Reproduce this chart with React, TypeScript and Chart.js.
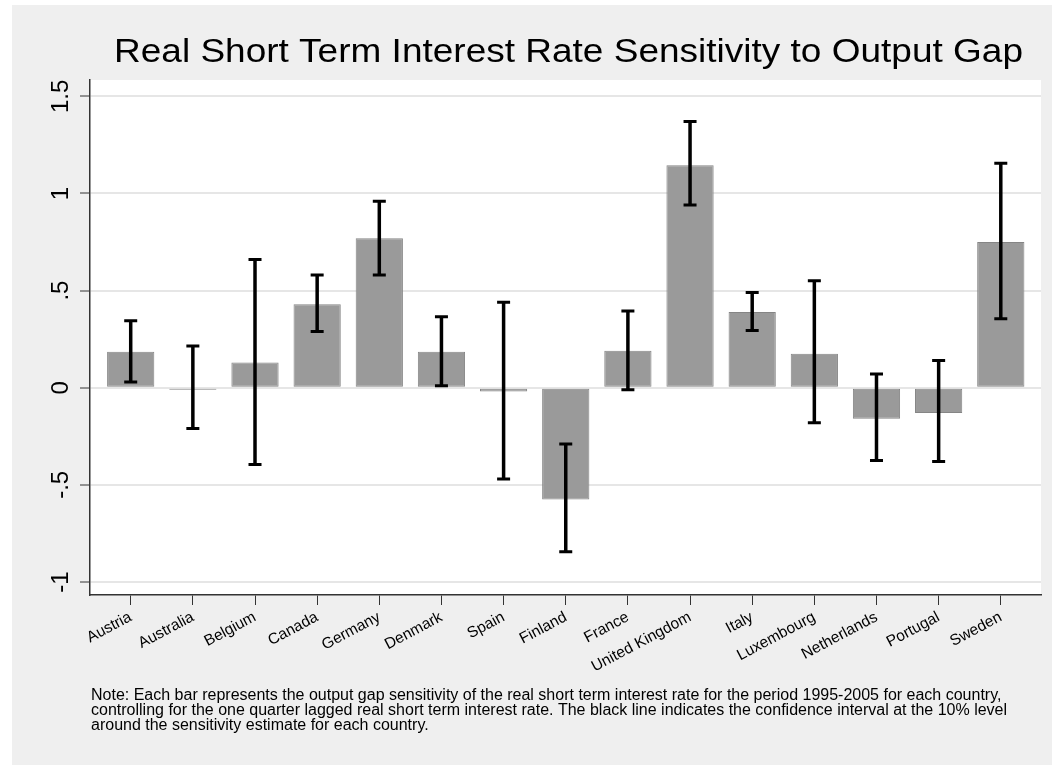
import React, { useEffect, useRef } from 'react';
import { Chart, registerables } from 'chart.js';

Chart.register(...registerables);

// Countries in display order
const countries = [
  'Austria', 'Australia', 'Belgium', 'Canada', 'Germany', 'Denmark', 'Spain', 'Finland',
  'France', 'United Kingdom', 'Italy', 'Luxembourg', 'Netherlands', 'Portugal', 'Sweden',
];

// Output gap sensitivity estimates
const estimates = [0.185, -0.01, 0.13, 0.43, 0.77, 0.185, -0.02, -0.575, 0.19, 1.145, 0.39, 0.175, -0.16, -0.13, 0.75];

// 10% confidence interval bounds
const ciLow = [0.03, -0.21, -0.395, 0.29, 0.58, 0.01, -0.47, -0.845, -0.01, 0.94, 0.295, -0.18, -0.375, -0.38, 0.355];
const ciHigh = [0.345, 0.215, 0.66, 0.58, 0.96, 0.365, 0.44, -0.29, 0.395, 1.37, 0.49, 0.55, 0.07, 0.14, 1.155];

// Value axis ticks
const yTickValues = [-1, -0.5, 0, 0.5, 1, 1.5];
const yTickLabels = ['-1', '-.5', '0', '.5', '1', '1.5'];

const titleText = 'Real Short Term Interest Rate Sensitivity to Output Gap';
const noteLines = [
  'Note: Each bar represents the output gap sensitivity of the real short term interest rate for the period 1995-2005 for each country,',
  'controlling for the one quarter lagged real short term interest rate. The black line indicates the confidence interval at the 10% level',
  'around the sensitivity estimate for each country.',
];

const FONT = '"Liberation Sans", Arial, Helvetica, sans-serif';
const PANEL = '#efefef';

const backdrop = {
  id: 'backdrop',
  beforeDraw(chart: any) {
    const { ctx, width, height, chartArea } = chart;
    ctx.save();
    ctx.fillStyle = '#ffffff';
    ctx.fillRect(0, 0, width, height);
    ctx.fillStyle = PANEL;
    ctx.fillRect(12, 5, width - 12, height - 10);
    ctx.fillStyle = '#ffffff';
    ctx.fillRect(chartArea.left, chartArea.top, chartArea.right - chartArea.left, chartArea.bottom - chartArea.top);
    ctx.restore();
  },
};

const errorBars = {
  id: 'errorBars',
  afterDatasetsDraw(chart: any) {
    const { ctx } = chart;
    const xs = chart.scales.x;
    const ys = chart.scales.y;
    ctx.save();
    ctx.strokeStyle = '#000000';
    ctx.lineCap = 'butt';
    countries.forEach((_, i) => {
      const x = xs.getPixelForValue(i);
      const yLo = ys.getPixelForValue(ciLow[i]);
      const yHi = ys.getPixelForValue(ciHigh[i]);
      ctx.lineWidth = 3.5;
      ctx.beginPath();
      ctx.moveTo(x, yLo);
      ctx.lineTo(x, yHi);
      ctx.stroke();
      ctx.lineWidth = 3;
      ctx.beginPath();
      ctx.moveTo(x - 6.5, yLo);
      ctx.lineTo(x + 6.5, yLo);
      ctx.moveTo(x - 6.5, yHi);
      ctx.lineTo(x + 6.5, yHi);
      ctx.stroke();
    });
    ctx.restore();
  },
};

const annotations = {
  id: 'annotations',
  afterDraw(chart: any) {
    const { ctx } = chart;
    const ys = chart.scales.y;
    ctx.save();
    ctx.fillStyle = '#000000';

    // rotated value-axis labels
    ctx.font = `24px ${FONT}`;
    ctx.textAlign = 'center';
    ctx.textBaseline = 'middle';
    yTickValues.forEach((v, i) => {
      const y = ys.getPixelForValue(v);
      ctx.save();
      ctx.translate(61, y);
      ctx.rotate(-Math.PI / 2);
      ctx.fillText(yTickLabels[i], 0, 0);
      ctx.restore();
    });

    // title, set slightly wide
    ctx.font = `34px ${FONT}`;
    ctx.textAlign = 'center';
    ctx.textBaseline = 'alphabetic';
    const tw = ctx.measureText(titleText).width;
    ctx.save();
    ctx.translate(568.5, 62);
    ctx.scale(909 / tw, 1);
    ctx.fillText(titleText, 0, 0);
    ctx.restore();

    // note
    ctx.font = `16px ${FONT}`;
    ctx.textAlign = 'left';
    noteLines.forEach((line, i) => {
      ctx.fillText(line, 91, 700 + i * 15);
    });
    ctx.restore();
  },
};

export default function App() {
  const canvasRef = useRef<HTMLCanvasElement | null>(null);

  useEffect(() => {
    const canvas = canvasRef.current;
    if (!canvas) return;
    const chart = new Chart(canvas, {
      type: 'bar',
      data: {
        datasets: [
          {
            data: estimates.map((v, i) => ({ x: i, y: v })),
            backgroundColor: '#9a9a9a',
            borderColor: '#858585',
            borderWidth: 1,
            borderSkipped: false,
            barPercentage: 0.76,
            categoryPercentage: 1,
          },
        ],
      },
      options: {
        animation: false,
        responsive: false,
        devicePixelRatio: 1,
        layout: { padding: { top: 80, right: 11, left: 0, bottom: 0 } },
        plugins: {
          legend: { display: false },
          tooltip: { enabled: false },
          title: { display: false },
        },
        scales: {
          x: {
            type: 'linear',
            offset: false,
            min: -0.655,
            max: 14.647,
            afterBuildTicks: (axis: any) => {
              axis.ticks = countries.map((_, i) => ({ value: i }));
            },
            afterFit: (axis: any) => {
              axis.height = 175;
            },
            ticks: {
              autoSkip: false,
              minRotation: 28,
              maxRotation: 28,
              padding: 3,
              color: '#000000',
              font: { family: FONT, size: 15.5 },
              callback: (_v: any, i: number) => countries[i],
            },
            grid: {
              offset: false,
              drawOnChartArea: false,
              drawTicks: true,
              tickLength: 10,
              tickColor: '#333333',
              tickWidth: 1,
            },
            border: { display: true, color: '#333333', width: 1.5 },
          },
          y: {
            type: 'linear',
            min: -1.067,
            max: 1.584,
            afterBuildTicks: (axis: any) => {
              axis.ticks = yTickValues.map((v) => ({ value: v }));
            },
            afterFit: (axis: any) => {
              axis.width = 90;
            },
            ticks: { display: false },
            grid: {
              color: '#e6e6e6',
              lineWidth: 2,
              drawTicks: true,
              tickLength: 10,
              tickColor: '#333333',
              tickWidth: 1,
            },
            border: { display: true, color: '#333333', width: 1.5 },
          },
        },
      },
      plugins: [backdrop, errorBars, annotations],
    });
    return () => chart.destroy();
  }, []);

  return (
    <div style={{ position: 'fixed', left: 0, top: 0, width: 1052, height: 770 }}>
      <canvas ref={canvasRef} width={1052} height={770} />
    </div>
  );
}
